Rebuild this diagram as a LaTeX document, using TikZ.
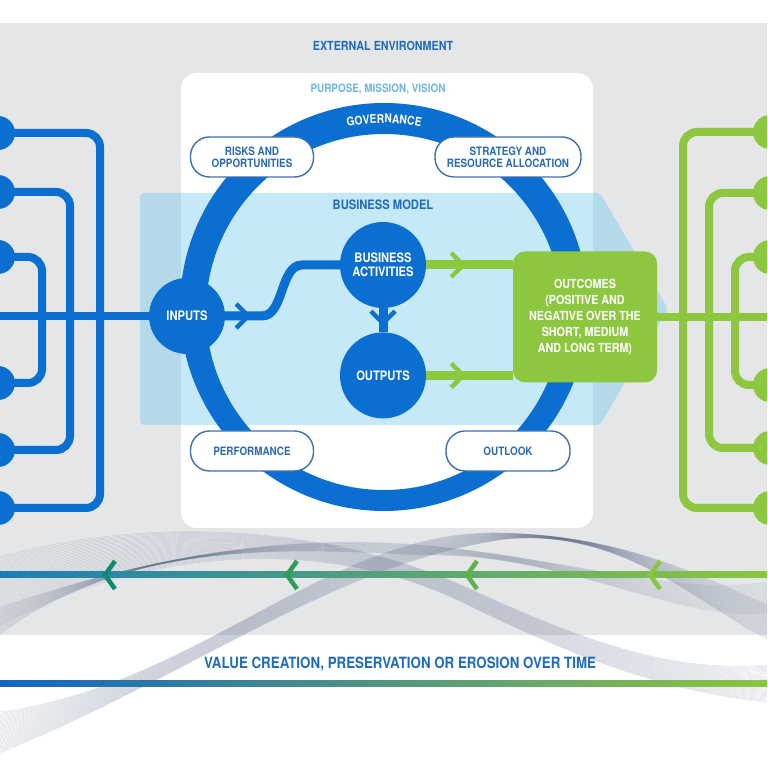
\documentclass[tikz,border=0pt]{standalone}
\usepackage{fontspec}
\setmainfont{TeX Gyre Heros}[FakeStretch=0.86]
\usetikzlibrary{
  positioning,
  calc,
  decorations.markings,
  decorations.text
}
\definecolor{envgrey}{HTML}{E4E6E8}
\definecolor{coreblue}{HTML}{0A6FD0}
\definecolor{titleblue}{HTML}{1F6CBB}
\definecolor{paleblue}{HTML}{6DB6E3}
\definecolor{pillline}{HTML}{3E6FAE}
\definecolor{pilltext}{HTML}{2C6BB4}
\definecolor{bandblue}{HTML}{62C4EC}
\definecolor{leaf}{HTML}{8DC63F}
\definecolor{wavegrey}{HTML}{4E5E80}
\definecolor{timeblue}{HTML}{1565C0}
\definecolor{timeteal}{HTML}{1E9A80}
\definecolor{timegreen}{HTML}{8CC63F}
\definecolor{upperblue}{HTML}{1C7DB5}
\definecolor{uppermid}{HTML}{2F9E55}
\newcommand{\govfont}{\bfseries\fontsize{12}{12}\selectfont}
\tikzset{
  base/.style={
    text=white,
    font=\bfseries\fontsize{13}{14}\selectfont,
    align=center,
    inner sep=0pt,
  },
  hub/.style={
    base,
    circle,
    fill=coreblue,
    minimum size=86pt,
  },
  pill/.style={
    font=\bfseries\fontsize{11.5}{12}\selectfont,
    text=pilltext,
    align=center,
    draw=pillline,
    line width=1.4pt,
    fill=white,
    rounded corners=19pt,
    minimum height=40pt,
    inner sep=0pt,
  },
  heading/.style={
    font=\bfseries\fontsize{12.5}{13}\selectfont,
    text=titleblue,
    inner sep=0pt,
  },
  dotblue/.style={circle, fill=coreblue, minimum size=34pt, inner sep=0pt},
  dotgreen/.style={circle, fill=leaf, minimum size=34pt, inner sep=0pt},
  treeblue/.style={draw=coreblue, line width=8pt, rounded corners=14pt},
  treegreen/.style={draw=leaf, line width=8pt, rounded corners=14pt},
  link/.style={draw=coreblue, line width=9pt},
  linkgreen/.style={draw=leaf, line width=9pt},
  chev/.style 2 args={
    postaction={decorate},
    decoration={markings, mark=at position #1 with {
      \draw[#2, line width=4.5pt] (-9pt,12pt) -- (3pt,0pt) -- (-9pt,-12pt);}},
  },
  wave/.style={draw=wavegrey, line width=0.45pt, opacity=0.2},
  timechev/.style={line width=4.5pt},
}

\begin{document}
\begin{tikzpicture}[x=1pt, y=1pt]
\useasboundingbox (0,0) rectangle (767,767);
\clip (0,0) rectangle (767,767);

% === BACKGROUND: external environment ===
\fill[white] (0,0) rectangle (767,767);
\fill[envgrey] (0,132) rectangle (767,744);

\node[heading] (envtitle) at (383,721) {EXTERNAL ENVIRONMENT};

% === WAVES ===
\foreach \i in {0,...,34} {
  \draw[wave] (0,210-2*\i) .. controls (150,252-0.9*\i) and (330,242-0.3*\i) .. (470,178-0.5*\i)
    .. controls (600,118-0.6*\i) and (680,95-0.6*\i) .. (767,102-1.1*\i);
  \draw[wave] (0,55-1.2*\i) .. controls (200,82+0.4*\i) and (330,238-1.1*\i) .. (500,234-0.2*\i)
    .. controls (620,232+0.3*\i) and (700,192-0.9*\i) .. (767,162-1*\i);
  \draw[wave, opacity=0.12] (0,160-0.8*\i) .. controls (120,200+0.6*\i) and (260,235-0.4*\i) .. (420,222-0.3*\i)
    .. controls (560,210+0.2*\i) and (680,170-0.8*\i) .. (767,185-0.9*\i);
}

% === TIMELINES ===
\shade[left color=upperblue, middle color=uppermid, right color=timegreen] (0,189) rectangle (767,195);
\foreach \xa/\col in {105/{teal!70!uppermid}, 287/uppermid, 467/{uppermid!50!timegreen}, 650/timegreen} {
  \draw[timechev, draw=\col] (\xa+10,206) -- (\xa,192) -- (\xa+10,178);
}
\shade[left color=timeblue, middle color=timeteal, right color=timegreen] (0,80) rectangle (767,86);
\node[heading, font=\bfseries\fontsize{15.5}{16}\selectfont] (timetitle) at (400,103)
  {VALUE CREATION, PRESERVATION OR EROSION OVER TIME};

% === ORGANISATION: white box ===
\fill[white, rounded corners=16pt] (181,239) rectangle (593,694);
\node[heading, text=paleblue, font=\bfseries\fontsize{11.5}{12}\selectfont] (purpose) at (378,678)
  {PURPOSE, MISSION, VISION};

% business model band
\fill[bandblue, opacity=0.37, rounded corners=4pt]
  (140,574) -- (600,574) -- (668,458) -- (600,342) -- (140,342) -- cycle;
\node[heading, font=\bfseries\fontsize{13}{14}\selectfont] (bmtitle) at (383,562) {BUSINESS MODEL};

% governance ring (thicker at the top)
\coordinate (ringout) at (384,460);
\coordinate (ringin) at (384,455);
\fill[coreblue, even odd rule] (ringout) circle[radius=204] (ringin) circle[radius=178];
\path[decorate, decoration={text along path, text={|\govfont|GOVERNANCE},
  text align=center, text color=white}]
  ($(ringin)+(117:189)$) arc[start angle=117, end angle=63, radius=189];

% === PILLS ===
\node[pill, minimum width=123pt] (risks) at (252,610) {RISKS AND\\OPPORTUNITIES};
\node[pill, minimum width=146pt] (strategy) at (508,610) {STRATEGY AND\\RESOURCE ALLOCATION};
\node[pill, minimum width=123pt] (performance) at (252,316) {PERFORMANCE};
\node[pill, minimum width=124pt] (outlook) at (508,316) {OUTLOOK};

% === CORE FLOW ===
\node[hub, minimum size=76pt] (inputs) at (187,451) {INPUTS};
\node[hub] (activities) at (383,502) {BUSINESS\\ACTIVITIES};
\node[hub, below=24pt of activities] (outputs) {OUTPUTS};

\node[base, fill=leaf, rounded corners=12pt, minimum width=144pt, minimum height=131pt,
  font=\bfseries\fontsize{12.5}{16}\selectfont] (outcomes) at (585,450)
  {OUTCOMES\\(POSITIVE AND\\NEGATIVE OVER THE\\SHORT, MEDIUM\\AND LONG TERM)};

\draw[link, chev={20pt}{coreblue}] (inputs) -- (262,451)
  .. controls (284,451) and (280,502) .. (302,502) -- (activities);
\draw[link, chev={12pt}{coreblue}] (activities) -- (outputs);
\draw[linkgreen, chev={34pt}{leaf}] (activities) -- (outcomes.west |- activities);
\draw[linkgreen, chev={34pt}{leaf}] (outputs) -- (outcomes.west |- outputs);

% === LEFT TREE: capitals in ===
\coordinate (lstart) at (0,451);
\foreach \ya/\yb/\xv [count=\k] in {634/259/100, 575/317/70, 510/384/42} {
  \node[dotblue] (inA\k) at (-2,\ya) {};
  \node[dotblue] (inB\k) at (-2,\yb) {};
  \coordinate (lbus\k) at (\xv,451);
  \draw[treeblue] (inA\k.center) -| (lbus\k) |- (inB\k.center);
}
\draw[link, line width=8pt] (lstart) -- (inputs);

% === RIGHT TREE: capitals out ===
\coordinate (rend) at (767,450);
\foreach \ya/\yb/\xv [count=\k] in {635/259/683, 574/319/709, 510/382/735} {
  \node[dotgreen] (outA\k) at (770,\ya) {};
  \node[dotgreen] (outB\k) at (770,\yb) {};
  \coordinate (rbus\k) at (\xv,450);
  \draw[treegreen] (outA\k.center) -| (rbus\k) |- (outB\k.center);
}
\draw[linkgreen, line width=8pt] (outcomes) -- (rend);

\end{tikzpicture}
\end{document}
